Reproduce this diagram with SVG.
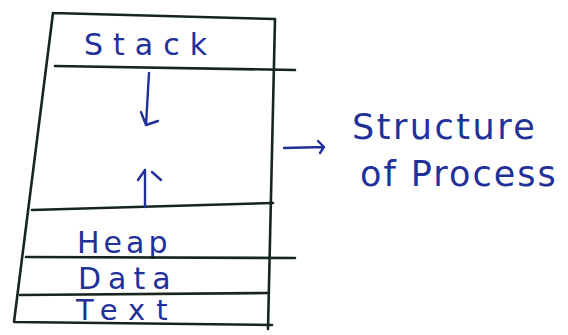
<svg xmlns="http://www.w3.org/2000/svg" width="568" height="335" viewBox="0 0 568 335">
<style>
.ln{stroke:#16261c;stroke-width:2.6;fill:none;stroke-linecap:round;stroke-linejoin:round}
.bl{stroke:#22309a;stroke-width:2.4;fill:none;stroke-linecap:round;stroke-linejoin:round}
.t{font-family:"DejaVu Sans",sans-serif;fill:#22309a}
</style>
<rect width="568" height="335" fill="#ffffff"/>
<g id="process-box">
<path class="ln" d="M53,13 L275,19 L268,329 M53,13 L14,322 L272,325"/>
</g>
<g id="stack">
<path class="ln" d="M55,66 L295,70"/>
<text class="t" x="84" y="55" font-size="30" letter-spacing="10">Stack</text>
</g>
<g id="heap">
<path class="ln" d="M32,210 L273,203"/>
<text class="t" x="77" y="253" font-size="30" letter-spacing="4">Heap</text>
</g>
<g id="data">
<path class="ln" d="M26,257 L295,258"/>
<text class="t" x="78" y="289" font-size="30" letter-spacing="7">Data</text>
</g>
<g id="text">
<path class="ln" d="M20,295 L268,293"/>
<text class="t" x="76" y="320" font-size="29" letter-spacing="11">Text</text>
</g>
<g id="label">
<text class="t" x="352" y="139" font-size="35" letter-spacing="2.5">Structure</text>
<text class="t" x="360" y="186" font-size="35" letter-spacing="2">of Process</text>
</g>
<g id="connectors">
<path class="bl" d="M149,73 L146,125 M141,112 L146,125 L158,121"/>
<path class="bl" d="M145,207 L145,170 M138,180 L145,170 M152,172 L161,180"/>
<path class="bl" d="M284,148 L324,147 M318,141 L324,147 L320,153"/>
</g>
</svg>
